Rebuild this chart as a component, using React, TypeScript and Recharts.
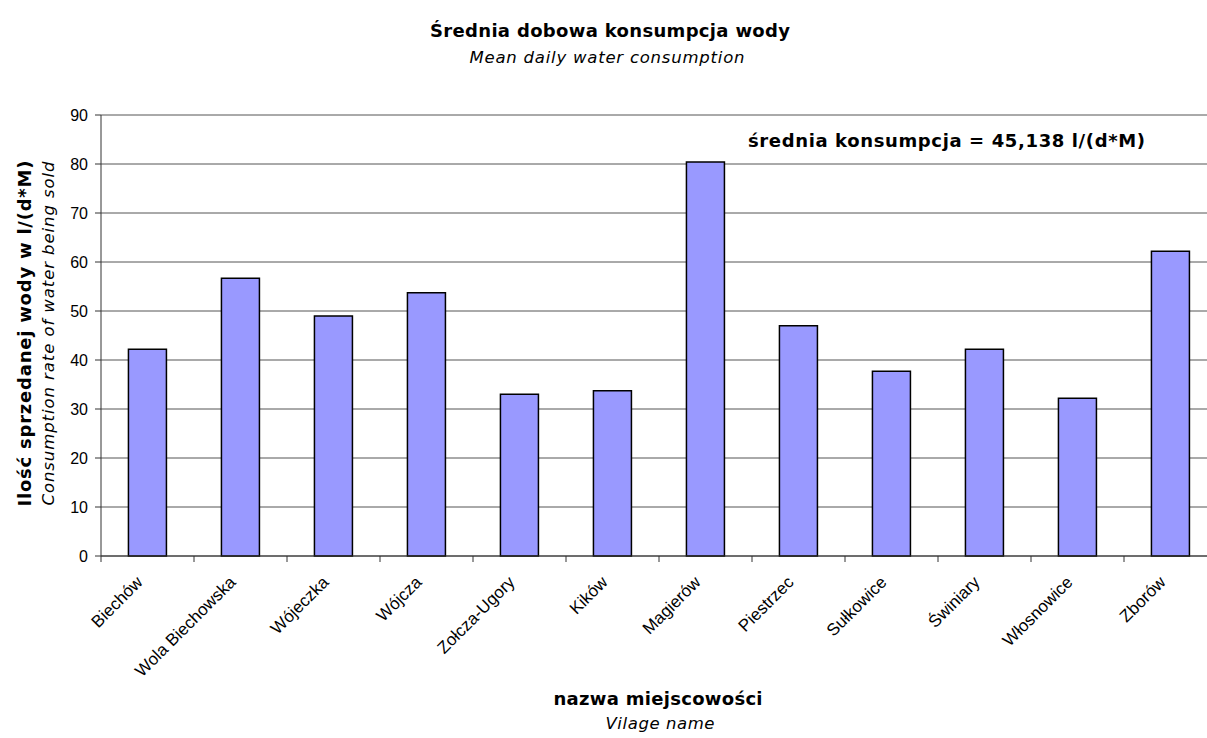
import React from 'react';
import { BarChart, Bar, XAxis, YAxis, CartesianGrid, Label } from 'recharts';

// Villages (x categories) and mean daily consumption per village, l/(d*M)
const villages = [
  'Biechów',
  'Wola Biechowska',
  'Wójeczka',
  'Wójcza',
  'Zołcza-Ugory',
  'Kików',
  'Magierów',
  'Piestrzec',
  'Sułkowice',
  'Świniary',
  'Włosnowice',
  'Zborów',
];
const consumption = [42.2, 56.7, 49.0, 53.7, 33.0, 33.7, 80.4, 47.0, 37.7, 42.2, 32.2, 62.2];
const yTicks = [0, 10, 20, 30, 40, 50, 60, 70, 80, 90];

const chartTitle = 'Średnia dobowa konsumpcja wody';
const chartSubtitle = 'Mean daily water consumption';
const yTitle = 'Ilość sprzedanej wody w l/(d*M)';
const ySubtitle = 'Consumption rate of water being sold';
const xTitle = 'nazwa miejscowości';
const xSubtitle = 'Vilage name';
const meanNote = 'średnia konsumpcja = 45,138 l/(d*M)';

const data = villages.map((name, i) => ({ name, value: consumption[i] }));

const TAHOMA_LIKE = '"DejaVu Sans", Verdana, sans-serif';
const ARIAL_LIKE = '"Liberation Sans", Arial, sans-serif';

const X_TICK_SIZE = 6;
const X_TICK_MARGIN = 8;

// Category label rotated 45°, plus a short tick mark on the left category boundary
const VillageTick = (props: any) => {
  const { x, y, payload } = props;
  const half = payload && typeof payload.offset === 'number' ? payload.offset : 0;
  const axisY = y - X_TICK_SIZE - X_TICK_MARGIN;
  const tx = x - 8;
  const ty = y + 9;
  return (
    <g>
      <line x1={x - half} x2={x - half} y1={axisY} y2={axisY + 6} stroke="#333" strokeWidth={1} />
      <text
        x={tx}
        y={ty}
        transform={`rotate(-45, ${tx}, ${ty})`}
        textAnchor="end"
        dy="0.35em"
        fontFamily={ARIAL_LIKE}
        fontSize={17}
        fill="#000"
      >
        {payload.value}
      </text>
    </g>
  );
};

const YTitleBlock = (props: any) => {
  const vb = props.viewBox || { x: 0, y: 0, width: 0, height: 0 };
  const cy = vb.y + vb.height / 2 - 2;
  const bx = vb.x + 31;
  const ix = vb.x + 54;
  return (
    <g>
      <text
        x={bx}
        y={cy}
        transform={`rotate(-90, ${bx}, ${cy})`}
        textAnchor="middle"
        fontFamily={TAHOMA_LIKE}
        fontWeight="bold"
        fontSize={18}
        textLength={346}
        lengthAdjust="spacing"
        fill="#000"
      >
        {yTitle}
      </text>
      <text
        x={ix}
        y={cy}
        transform={`rotate(-90, ${ix}, ${cy})`}
        textAnchor="middle"
        fontFamily={TAHOMA_LIKE}
        fontStyle="italic"
        fontSize={16.5}
        textLength={344}
        lengthAdjust="spacing"
        fill="#000"
      >
        {ySubtitle}
      </text>
    </g>
  );
};

const XTitleBlock = (props: any) => {
  const vb = props.viewBox || { x: 0, y: 0, width: 0, height: 0 };
  const cx = vb.x + vb.width / 2;
  return (
    <g>
      <text
        x={cx - 1}
        y={705}
        textAnchor="middle"
        fontFamily={TAHOMA_LIKE}
        fontWeight="bold"
        fontSize={18}
        textLength={209}
        lengthAdjust="spacing"
        fill="#000"
      >
        {xTitle}
      </text>
      <text
        x={cx + 1}
        y={729}
        textAnchor="middle"
        fontFamily={TAHOMA_LIKE}
        fontStyle="italic"
        fontSize={16.5}
        textLength={109}
        lengthAdjust="spacing"
        fill="#000"
      >
        {xSubtitle}
      </text>
    </g>
  );
};

export default function App() {
  return (
    <div
      style={{
        position: 'absolute',
        left: 0,
        top: 0,
        width: 1207,
        height: 738,
        overflow: 'hidden',
        background: '#fff',
      }}
    >
      <BarChart
        width={1230}
        height={738}
        data={data}
        margin={{ top: 115, right: 13, bottom: 0, left: 0 }}
        barCategoryGap="29.5%"
      >
        <CartesianGrid vertical={false} stroke="#555" strokeWidth={1} />
        <XAxis
          dataKey="name"
          height={182}
          interval={0}
          tickLine={false}
          tickSize={X_TICK_SIZE}
          tickMargin={X_TICK_MARGIN}
          axisLine={{ stroke: '#333', strokeWidth: 1 }}
          tick={<VillageTick />}
        >
          <Label content={<XTitleBlock />} />
        </XAxis>
        <YAxis
          width={101}
          domain={[0, 90]}
          ticks={yTicks}
          interval={0}
          tickSize={6}
          tickMargin={7}
          axisLine={{ stroke: '#333', strokeWidth: 1 }}
          tickLine={{ stroke: '#333', strokeWidth: 1 }}
          tick={{ fill: '#000', fontSize: 16, fontFamily: ARIAL_LIKE }}
        >
          <Label content={<YTitleBlock />} />
        </YAxis>
        <Bar dataKey="value" fill="#9999ff" stroke="#000" strokeWidth={1.5} isAnimationActive={false} />
      </BarChart>
      <svg
        width={1207}
        height={738}
        style={{ position: 'absolute', left: 0, top: 0, pointerEvents: 'none' }}
      >
        <text
          x={610}
          y={37}
          textAnchor="middle"
          fontFamily={TAHOMA_LIKE}
          fontWeight="bold"
          fontSize={18}
          textLength={360}
          lengthAdjust="spacing"
          fill="#000"
        >
          {chartTitle}
        </text>
        <text
          x={607}
          y={63}
          textAnchor="middle"
          fontFamily={TAHOMA_LIKE}
          fontStyle="italic"
          fontSize={16.5}
          textLength={275}
          lengthAdjust="spacing"
          fill="#000"
        >
          {chartSubtitle}
        </text>
        <text
          x={748}
          y={147}
          textAnchor="start"
          fontFamily={TAHOMA_LIKE}
          fontWeight="bold"
          fontSize={18}
          textLength={397}
          lengthAdjust="spacing"
          fill="#000"
        >
          {meanNote}
        </text>
      </svg>
    </div>
  );
}
